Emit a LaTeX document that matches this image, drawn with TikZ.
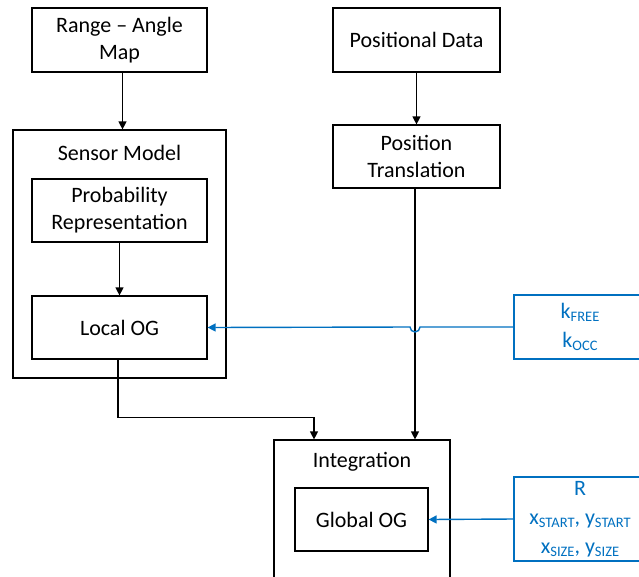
\documentclass[tikz,border=0pt]{standalone}
\usepackage{fontspec}
\setmainfont{Carlito}
\usetikzlibrary{arrows.meta,calc}
\definecolor{wblue}{RGB}{0,112,192}
\newcommand\subtxt[1]{\raisebox{-3pt}{\fontsize{14.5}{14.5}\selectfont #1}}
\tikzset{
  box/.style={draw=black,line width=1.2pt,inner sep=0pt,align=center,font=\fontsize{22}{27}\selectfont},
  bbox/.style={draw=wblue,line width=1.4pt,inner sep=0pt,align=center,text=wblue,font=\fontsize{22}{29}\selectfont},
  lbl/.style={inner sep=0pt,font=\fontsize{22}{27}\selectfont},
  arr/.style={line width=1.2pt,-{Triangle[length=8pt,width=8pt]}},
  barr/.style={draw=wblue,line width=1.4pt,-{Triangle[length=8pt,width=8pt]}},
}
\begin{document}
\begin{tikzpicture}[x=1pt,y=-1pt]
\path[use as bounding box,clip] (0,0) rectangle (639,576);
% containers
\node[box,minimum width=213pt,minimum height=248pt] (sm) at (119.5,254) {};
\node[lbl] (smlbl) at (119.5,153) {Sensor Model};
\node[box,minimum width=176pt,minimum height=160pt] (int) at (362,520) {};
\node[lbl] (intlbl) at (362,462) {Integration};
% boxes
\node[box,minimum width=175pt,minimum height=64pt] (ram) at (119.5,40) {Range -- Angle\\Map};
\node[box,minimum width=175pt,minimum height=63pt] (pr) at (119.5,210.5) {Probability\\Representation};
\node[box,minimum width=175pt,minimum height=63pt] (lo) at (119.5,327.5) {Local OG};
\node[box,minimum width=167pt,minimum height=64pt] (pd) at (416.5,40) {Positional Data};
\node[box,minimum width=167pt,minimum height=63pt] (pt) at (416.5,156.5) {Position\\Translation};
\node[box,minimum width=133pt,minimum height=63pt] (go) at (361.5,519.5) {Global OG};
\node[bbox,minimum width=132pt,minimum height=64pt] (kf) at (580,327) {k\subtxt{FREE}\\k\subtxt{OCC}};
\node[bbox,minimum width=132pt,minimum height=84pt] (rb) at (580,519) {R\\x\subtxt{START}, y\subtxt{START}\\x\subtxt{SIZE}, y\subtxt{SIZE}};
% connectors
\draw[arr] ($(ram.south)+(3,0)$) -- ($(sm.north)+(3,0)$);
\draw[arr] (pr.south) -- (lo.north);
\draw[arr] (pd.south) -- (pt.north);
\draw[arr] ($(pt.south)+(-1.5,0)$) -- ($(int.north)+(53,0)$);
\draw[arr] ($(lo.south)+(-1.5,0)$) -- ++(0,58) -| ($(int.north)+(-48,0)$);
\coordinate (hopR) at ($(pt.south |- kf.west)+(3.5,0)$);
\draw[barr] (kf.west) -- (hopR) arc[start angle=0,end angle=180,radius=5] -- (lo.east);
\draw[barr] (rb.west) -- (go.east);
\end{tikzpicture}
\end{document}
